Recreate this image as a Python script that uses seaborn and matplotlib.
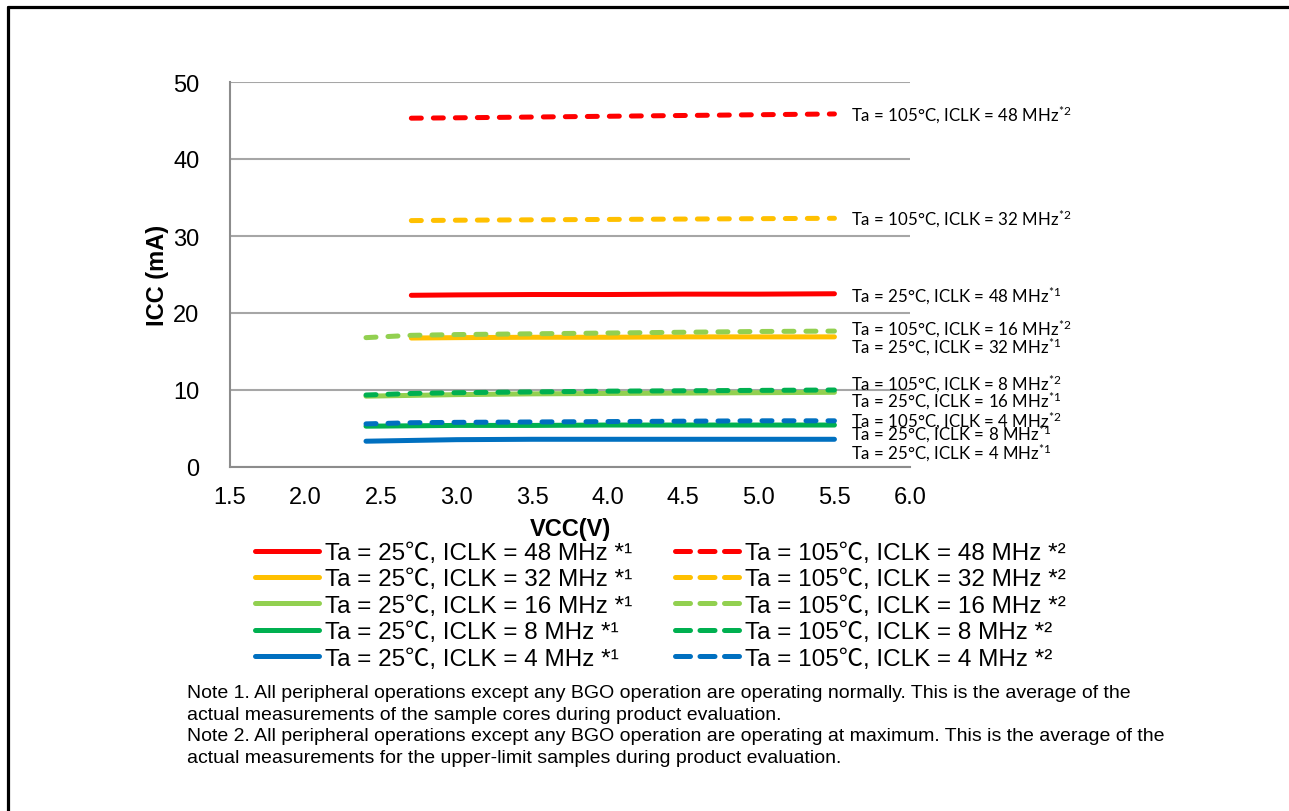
import matplotlib
matplotlib.use("Agg")
import matplotlib.pyplot as plt
from matplotlib.lines import Line2D
import pandas as pd
import seaborn as sns

# VCC sample points (V)
vcc_low = [2.4, 2.7, 3.0, 3.5, 4.0, 4.5, 5.0, 5.5]
vcc_high = [2.7, 3.0, 3.5, 4.0, 4.5, 5.0, 5.5]

clocks = [48, 32, 16, 8, 4]
colors = ["#FF0000", "#FFC000", "#92D050", "#00B050", "#0070C0"]

# ICC (mA), Ta = 25 C
icc_25_48 = [22.3, 22.35, 22.4, 22.4, 22.45, 22.45, 22.5]
icc_25_32 = [16.75, 16.8, 16.85, 16.85, 16.9, 16.9, 16.9]
icc_25_16 = [9.2, 9.3, 9.4, 9.5, 9.55, 9.6, 9.65, 9.7]
icc_25_8 = [5.3, 5.35, 5.4, 5.4, 5.45, 5.45, 5.45, 5.45]
icc_25_4 = [3.35, 3.45, 3.55, 3.6, 3.6, 3.6, 3.6, 3.6]

# ICC (mA), Ta = 105 C
icc_105_48 = [45.3, 45.35, 45.45, 45.55, 45.65, 45.75, 45.85]
icc_105_32 = [32.0, 32.05, 32.1, 32.15, 32.2, 32.25, 32.3]
icc_105_16 = [16.8, 17.1, 17.2, 17.3, 17.4, 17.5, 17.6, 17.65]
icc_105_8 = [9.35, 9.55, 9.65, 9.75, 9.85, 9.9, 9.95, 10.0]
icc_105_4 = [5.6, 5.75, 5.8, 5.85, 5.9, 5.95, 6.0, 6.0]

series_25 = [(vcc_high, icc_25_48), (vcc_high, icc_25_32), (vcc_low, icc_25_16),
             (vcc_low, icc_25_8), (vcc_low, icc_25_4)]
series_105 = [(vcc_high, icc_105_48), (vcc_high, icc_105_32), (vcc_low, icc_105_16),
              (vcc_low, icc_105_8), (vcc_low, icc_105_4)]

# in-plot labels: (text y in mA, temperature, clock)
side_labels = [(45.8, 105, 48), (32.3, 105, 32), (22.3, 25, 48), (18.0, 105, 16),
               (15.6, 25, 32), (10.9, 105, 8), (8.6, 25, 16), (6.1, 105, 4),
               (4.3, 25, 8), (1.95, 25, 4)]

notes = [
    "Note 1. All peripheral operations except any BGO operation are operating normally. This is the average of the",
    "actual measurements of the sample cores during product evaluation.",
    "Note 2. All peripheral operations except any BGO operation are operating at maximum. This is the average of the",
    "actual measurements for the upper-limit samples during product evaluation.",
]

sns.set_style("white")
plt.rcParams["font.family"] = ["Liberation Sans", "Noto Sans CJK JP", "DejaVu Sans"]
plt.rcParams["mathtext.fontset"] = "custom"
plt.rcParams["mathtext.rm"] = "Lato"
plt.rcParams["mathtext.it"] = "Lato"
plt.rcParams.update({"text.color": "black", "axes.labelcolor": "black",
                     "xtick.color": "black", "ytick.color": "black"})

fig = plt.figure(figsize=(12.89, 8.12), dpi=100)
ax = fig.add_axes([230 / 1289, 1 - 468 / 812, 680 / 1289, 385 / 812])

lw = 3.6
dash = (0, (2.0, 2.4))
handles_25, handles_105 = [], []
for (x, y), c, mhz in zip(series_25, colors, clocks):
    df = pd.DataFrame({"vcc": x, "icc": y})
    sns.lineplot(data=df, x="vcc", y="icc", ax=ax, color=c, lw=lw,
                 solid_capstyle="round", zorder=3)
    handles_25.append(Line2D([], [], color=c, lw=lw, solid_capstyle="round",
                             label=f"Ta = 25\u2103, ICLK = {mhz} MHz *\u00b9"))
for (x, y), c, mhz in zip(series_105, colors, clocks):
    df = pd.DataFrame({"vcc": x, "icc": y})
    sns.lineplot(data=df, x="vcc", y="icc", ax=ax, color=c, lw=lw,
                 linestyle=dash, dash_capstyle="round", zorder=4)
    handles_105.append(Line2D([], [], color=c, lw=lw, linestyle=(0, (3.0, 1.9)),
                              dash_capstyle="round",
                              label=f"Ta = 105\u2103, ICLK = {mhz} MHz *\u00b2"))

for ty, ta, mhz in side_labels:
    mark = 2 if ta == 105 else 1
    ax.text(5.61, ty, f"Ta = {ta}\u00b0C, ICLK = {mhz} MHz" + r"$^{*" + str(mark) + "}$",
            fontsize=12.2, family="Lato", va="center", ha="left", clip_on=False)

ax.set_xlim(1.5, 6.0)
ax.set_ylim(0, 50)
ax.set_xticks([1.5, 2.0, 2.5, 3.0, 3.5, 4.0, 4.5, 5.0, 5.5, 6.0])
ax.set_yticks([0, 10, 20, 30, 40, 50])
ax.set_xticklabels([f"{v:.1f}" for v in ax.get_xticks()])
ax.yaxis.grid(True, color="#A6A6A6", lw=1.5)
ax.set_axisbelow(True)
for s in ["top", "right"]:
    ax.spines[s].set_visible(False)
for s in ["left", "bottom"]:
    ax.spines[s].set_color("#8C8C8C")
    ax.spines[s].set_linewidth(1.5)
ax.tick_params(axis="x", length=0, pad=14, labelsize=17)
ax.tick_params(axis="y", length=0, pad=22, labelsize=17)
ax.set_xlabel("VCC(V)", fontsize=17, fontweight="bold", labelpad=6)
ax.set_ylabel("ICC (mA)", fontsize=17, fontweight="bold", labelpad=3)

fig.legend(handles=handles_25 + handles_105, ncol=2, loc="upper left",
           bbox_to_anchor=(255 / 1289, 1 - 543 / 812), frameon=False, fontsize=17.5,
           handlelength=2.65, handletextpad=0.22, labelspacing=0.18, columnspacing=1.78,
           borderaxespad=0, borderpad=0)

for i, line in enumerate(notes):
    fig.text(187 / 1289, 1 - (694 + 21.5 * i) / 812, line, fontsize=14, va="center", ha="left")

# frame on left and top
fig.add_artist(Line2D([8 / 1289, 8 / 1289], [0, 1 - 8 / 812], color="black", lw=2.3,
                      transform=fig.transFigure))
fig.add_artist(Line2D([8 / 1289, 1], [1 - 8 / 812, 1 - 8 / 812], color="black", lw=2.3,
                      transform=fig.transFigure))

fig.savefig("out.png", dpi=100)
